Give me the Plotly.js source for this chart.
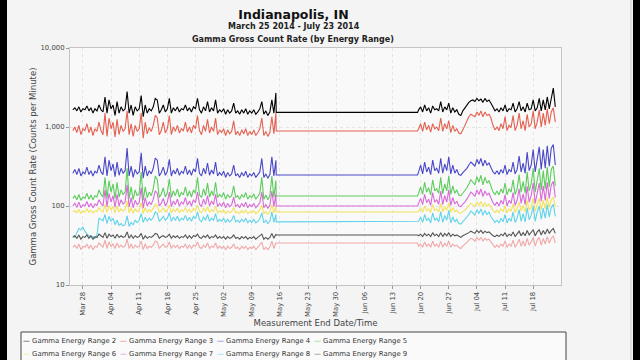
<!DOCTYPE html>
<html><head><meta charset="utf-8">
<script src="https://cdn.plot.ly/plotly-3.0.1.min.js"></script>
<style>html,body{margin:0;padding:0;background:#f4f4f4}#chart{width:640px;height:360px}</style>
</head><body><div id="chart"></div>
<script>
// ---------- DATA ----------
const seriesNames = ['Gamma Energy Range 2','Gamma Energy Range 3','Gamma Energy Range 4','Gamma Energy Range 5',
  'Gamma Energy Range 6','Gamma Energy Range 7','Gamma Energy Range 8','Gamma Energy Range 9','Gamma Energy Range 10'];
const seriesColors = ['#000000','#e4604f','#4a48c8','#5ccc5c','#f2e25a','#d86ad8','#5fd3ea','#555555','#f0a8a8'];

const seg1Start = '2014-03-25 12:00';   // first reading, then every 12 h
const seg2Start = '2014-06-19 12:00';
const sampleHours = 12;
const gapTimes = ['2014-05-15 02:00','2014-06-19 06:00'];
const gapLevels = [1530, 890, 247, 134, 84, 100, 63, 43, 34];

const yTickVals = [10, 100, 1000, 10000];
const yTickText = ['10', '100', '1,000', '10,000'];

// Range 2
const r2a = [1650,1750,1600,1800,1550,1700,1650,1850,1600,1750,
 1500,1700,1600,1900,1650,1550,2400,1500,2200,1700,
 1900,1400,2100,1500,1800,1600,1700,2800,1500,1900,
 1400,1800,1600,1700,2500,1350,1900,1500,1700,1600,
 1800,2300,2200,1500,1650,1900,1550,1700,2300,1500,
 1750,1600,1800,1550,1700,1650,1900,1600,1750,1550,
 1800,1700,2300,1650,1500,1800,1600,2100,1550,1750,
 1600,2200,1500,1650,1550,1700,1450,1650,1500,1600,
 2000,1500,1600,1450,1650,1500,1700,1450,1600,1500,
 1650,1450,1550,1700,2100,1450,1600,1400,1550,2200,
 1500,2700];
const r2b = [1650,1800,1550,1900,1600,1750,1500,1850,1650,1700,
 1600,2100,1550,1800,1650,2000,1500,1750,1550,1650,
 1450,1400,1600,1750,1900,2050,2150,2200,2100,2300,
 2150,2250,2050,2300,2100,2200,2000,1750,1600,1700,
 1550,1750,1600,1900,1550,1700,1650,2000,1550,1700,
 2100,1600,1800,1550,2000,1650,1700,2200,1600,1750,
 2300,1600,2200,1650,2400,1700,2300,3100,1800];
// Range 3
const r3a = [900,1000,850,1050,800,950,900,1100,850,1000,
 780,950,880,1150,900,800,1500,760,1300,950,
 1150,750,1250,800,1050,880,950,1600,800,1100,
 760,1050,880,950,1500,720,1150,820,980,880,
 1050,1400,1300,800,900,1150,840,950,1400,800,
 1000,880,1050,840,950,900,1150,860,1000,840,
 1050,950,1400,900,800,1050,880,1250,840,1000,
 880,1300,800,920,850,950,780,920,820,880,
 1200,800,880,780,920,820,950,780,880,800,
 920,780,850,950,1300,780,880,760,850,1350,
 820,1500];
const r3b = [950,1100,880,1150,920,1050,860,1100,950,1000,
 900,1300,880,1100,950,1200,850,1050,880,950,
 840,820,920,1050,1200,1350,1450,1400,1350,1550,
 1400,1600,1350,1550,1400,1450,1300,1050,920,1000,
 900,1100,950,1350,900,1050,980,1400,900,1050,
 1500,950,1200,900,1450,1000,1100,1600,950,1150,
 1650,1000,1500,1050,1700,1100,1550,1750,1150];
// Range 4
const r4a = [260,290,250,300,240,270,255,310,250,280,
 240,275,260,330,270,250,420,240,380,280,
 340,235,360,245,300,260,280,540,240,320,
 230,290,255,270,470,225,320,240,280,255,
 300,405,380,240,265,310,245,275,390,240,
 285,255,300,245,275,260,320,250,285,245,
 295,270,400,260,240,300,255,350,245,285,
 255,360,240,265,245,275,230,265,240,255,
 330,240,255,230,265,240,275,230,255,240,
 265,230,250,270,400,230,255,225,250,420,
 240,380];
const r4b = [270,330,255,360,270,310,250,380,280,300,
 260,400,260,340,280,420,255,330,260,290,
 250,245,265,280,300,330,360,340,320,390,
 340,400,320,380,330,350,300,270,255,280,
 250,290,260,330,250,290,270,360,255,290,
 430,270,350,260,480,280,330,520,270,380,
 560,290,520,300,580,320,540,600,330];
// Range 5
const r5a = [125,135,120,140,118,130,125,145,122,138,
 120,135,130,160,140,130,230,125,210,150,
 190,125,200,130,160,140,150,300,125,175,
 120,160,135,145,270,118,175,128,150,135,
 165,240,215,128,142,170,130,148,220,128,
 155,135,165,130,148,138,175,132,155,130,
 160,145,230,138,128,165,135,195,130,155,
 135,200,128,140,130,148,122,140,128,135,
 180,128,135,122,140,128,148,122,135,128,
 142,122,132,145,230,122,138,120,135,240,
 128,210];
const r5b = [145,175,140,200,150,170,138,215,155,165,
 145,230,142,190,155,240,140,180,145,160,
 138,135,145,155,170,190,215,200,185,235,
 200,245,185,230,195,210,175,150,140,155,
 138,165,145,195,138,165,150,215,140,165,
 250,150,205,145,270,155,190,300,150,220,
 300,160,280,165,310,175,290,320,180];
// Range 6
const r6a = [84,88,82,90,81,86,84,92,83,88,
 82,87,85,95,88,84,105,83,100,90,
 98,82,100,84,92,86,90,115,82,95,
 81,92,85,88,110,80,95,83,90,85,
 94,105,102,83,87,95,84,89,102,82,
 91,85,94,83,89,86,95,84,91,83,
 93,88,102,86,82,94,85,98,83,90,
 85,99,82,87,83,89,80,87,82,85,
 96,82,85,80,88,82,89,80,85,82,
 88,80,84,89,102,80,85,79,84,104,
 82,98];
const r6b = [86,94,84,100,87,92,83,104,88,91,
 84,108,84,98,88,110,83,95,85,89,
 82,81,85,88,94,100,108,104,98,112,
 102,114,98,110,100,105,95,88,83,88,
 82,92,85,100,82,92,86,106,83,92,
 112,86,102,84,118,89,98,125,86,106,
 125,90,118,92,128,96,120,130,98];
// Range 7
const r7a = [100,108,96,112,95,104,100,114,97,108,
 95,106,102,120,108,100,160,98,145,112,
 135,97,140,100,120,106,112,185,97,128,
 95,118,104,110,170,94,128,100,112,104,
 122,155,145,100,108,125,100,112,150,98,
 116,104,122,100,112,106,128,102,116,100,
 120,110,150,106,98,122,104,135,100,116,
 104,140,98,108,100,112,95,108,98,104,
 130,98,104,95,108,98,112,95,104,98,
 108,95,102,110,150,95,104,94,102,155,
 98,140];
const r7b = [108,125,104,140,110,122,102,148,112,120,
 105,155,104,135,112,160,102,128,106,115,
 100,98,106,112,122,135,150,142,132,160,
 140,165,132,155,138,145,125,110,102,112,
 100,118,105,138,100,118,108,148,102,118,
 165,108,142,104,178,112,135,195,108,150,
 195,115,180,118,200,125,185,205,128];
// Range 8
const r8a = [42,40,46,52,50,54,48,44,42,40,
 41,39,43,70,68,65,78,60,74,64,
 70,58,66,57,60,56,58,75,55,62,
 58,66,62,66,80,62,72,64,70,66,
 72,84,80,64,68,74,66,70,82,64,
 72,66,74,64,70,67,76,65,72,64,
 74,69,84,67,63,73,66,78,64,70,
 66,80,63,68,64,70,62,68,63,66,
 76,63,66,62,68,63,70,61,66,62,
 68,61,64,69,82,61,66,60,64,84,
 62,78];
const r8b = [64,72,62,78,65,70,61,82,66,70,
 63,85,62,76,66,88,61,73,63,68,
 60,59,63,67,72,78,86,82,76,90,
 80,92,76,88,78,84,73,66,62,66,
 61,70,63,78,61,70,64,84,62,70,
 90,64,80,63,95,67,76,100,64,84,
 100,68,94,70,104,73,96,105,74];
// Range 9
const r9a = [40,42,39,43,38,41,40,43,39,42,
 38,41,40,44,42,40,46,39,44,41,
 43,39,44,40,42,40,41,47,39,43,
 39,42,40,41,45,38,42,39,41,40,
 42,45,44,39,41,42,40,41,44,39,
 42,40,42,39,41,40,43,39,42,39,
 42,41,44,40,39,42,40,43,39,41,
 40,43,39,41,39,41,38,41,39,40,
 43,39,40,38,41,39,41,38,40,39,
 41,38,40,42,44,38,40,38,40,45,
 39,44];
const r9b = [42,44,41,45,42,44,41,46,42,44,
 41,46,41,45,42,46,41,44,42,43,
 41,40,42,43,45,46,48,47,45,49,
 46,49,45,48,46,47,44,42,41,43,
 41,44,42,46,41,44,42,47,41,44,
 48,42,46,42,49,43,46,50,42,47,
 50,43,49,44,51,45,49,52,45];
// Range 10
const r10a = [30,32,29,33,28,31,30,33,29,32,
 28,31,30,34,32,30,37,29,35,31,
 33,29,34,30,32,30,31,38,29,33,
 29,32,30,31,36,28,33,29,31,30,
 32,36,35,29,31,33,30,31,35,29,
 32,30,32,29,31,30,33,29,32,29,
 32,31,35,30,29,32,30,34,29,31,
 30,34,29,31,29,31,28,31,29,30,
 33,29,30,28,31,29,31,28,30,29,
 31,28,30,32,35,28,30,28,30,36,
 29,34];
const r10b = [31,33,30,35,31,33,30,36,31,33,
 30,36,30,34,31,36,30,33,31,32,
 30,29,31,33,35,37,39,38,36,40,
 37,40,36,39,37,38,35,32,30,32,
 30,33,31,36,30,33,31,37,30,33,
 38,31,36,31,39,32,35,40,31,37,
 40,32,39,33,41,34,39,42,34];

// ---------- BUILD ----------
function sampleTimes(start, count) {
  const t0 = new Date(start.replace(' ', 'T') + ':00Z').getTime();
  const out = [];
  for (let i = 0; i < count; i++) {
    out.push(new Date(t0 + i * sampleHours * 3600000).toISOString().slice(0, 16).replace('T', ' '));
  }
  return out;
}
const seg1 = [r2a, r3a, r4a, r5a, r6a, r7a, r8a, r9a, r10a];
const seg2 = [r2b, r3b, r4b, r5b, r6b, r7b, r8b, r9b, r10b];
const t1 = sampleTimes(seg1Start, r2a.length);
const t2 = sampleTimes(seg2Start, r2b.length);

const traces = seriesNames.map((name, k) => ({
  type: 'scatter', mode: 'lines', name: name,
  x: t1.concat(gapTimes, t2),
  y: seg1[k].concat([gapLevels[k], gapLevels[k]], seg2[k]),
  line: {color: seriesColors[k], width: 1.1},
  hoverinfo: 'skip'
}));

// pixel helpers for layout-only placement
const PL = 70, PR = 561, PT = 48, PB = 285;
const px = x => (x - PL) / (PR - PL);
const py = y => (PB - y) / (PB - PT);

const FONT = 'DejaVu Sans, Verdana, sans-serif';

const annotations = [
  {text: 'March 25 2014 - July 23 2014', xref: 'paper', yref: 'paper', x: px(294), y: py(27), xanchor: 'center', yanchor: 'middle', showarrow: false,
   font: {family: FONT, size: 8, color: '#222', weight: 'bold'}},
  {text: 'Gamma Gross Count Rate (by Energy Range)', xref: 'paper', yref: 'paper', x: px(293), y: py(39.5), xanchor: 'center', yanchor: 'middle', showarrow: false,
   font: {family: FONT, size: 8, color: '#222', weight: 'bold'}}
];
// legend entries (two visible rows of four)
const legX = [22, 119, 216, 313];
const legY = [341, 354];
for (let k = 0; k < 8; k++) {
  annotations.push({
    text: '<span style="color:' + seriesColors[k] + '">\u2014</span> ' + seriesNames[k],
    xref: 'paper', yref: 'paper', x: px(legX[k % 4]), y: py(legY[Math.floor(k / 4)]),
    xanchor: 'left', yanchor: 'middle', showarrow: false, borderpad: 0,
    font: {family: FONT, size: 6.9, color: '#333'}
  });
}

const shapes = [
  {type: 'rect', xref: 'paper', yref: 'paper', x0: px(21), x1: px(566), y0: py(332), y1: py(400),
   line: {color: '#444', width: 1}, fillcolor: '#fafafa', layer: 'below'},
  {type: 'rect', xref: 'paper', yref: 'paper', x0: px(-2), x1: px(7), y0: py(-5), y1: py(365),
   line: {width: 0}, fillcolor: '#000'},
  {type: 'rect', xref: 'paper', yref: 'paper', x0: px(633), x1: px(642), y0: py(-5), y1: py(365),
   line: {width: 0}, fillcolor: '#000'},
  {type: 'line', xref: 'paper', yref: 'paper', x0: px(631), x1: px(631), y0: py(0), y1: py(360),
   line: {color: '#cfcfcf', width: 1}}
];

const layout = {
  width: 640, height: 360,
  margin: {l: PL, r: 640 - PR, t: PT, b: 360 - PB, pad: 0},
  paper_bgcolor: '#f4f4f4', plot_bgcolor: '#f9f9f9',
  font: {family: FONT, size: 6.7, color: '#333'},
  showlegend: false,
  title: {text: 'Indianapolis, IN', xref: 'paper', x: px(293.5), xanchor: 'center', yref: 'container', y: 1 - 15 / 360, yanchor: 'middle',
    font: {family: FONT, size: 12.5, color: '#111', weight: 'bold'}},
  xaxis: {
    type: 'date', range: ['2014-03-24 19:00', '2014-07-24 22:00'],
    tick0: '2014-03-28', dtick: 7 * 86400000, tickformat: '%b %d', tickangle: -90,
    ticks: 'outside', ticklen: 3, tickcolor: '#999', tickfont: {family: FONT, size: 6.9, color: '#444'},
    showgrid: true, gridcolor: '#e4e4e4', griddash: 'dot', gridwidth: 1,
    showline: true, linecolor: '#c4c4c4', linewidth: 1, mirror: true, zeroline: false,
    automargin: false,
    title: {text: 'Measurement End Date/Time', font: {family: FONT, size: 8.5, color: '#444'}, standoff: 4}
  },
  yaxis: {
    type: 'log', range: [1, 4], tickvals: yTickVals, ticktext: yTickText,
    ticks: 'outside', ticklen: 3, tickcolor: '#999', tickfont: {family: FONT, size: 6.9, color: '#444'},
    showgrid: true, gridcolor: '#e4e4e4', griddash: 'dot', gridwidth: 1,
    showline: true, linecolor: '#c4c4c4', linewidth: 1, mirror: true, zeroline: false,
    automargin: false,
    title: {text: 'Gamma Gross Count Rate (Counts per Minute)', font: {family: FONT, size: 8.5, color: '#444'}, standoff: 2}
  },
  annotations: annotations,
  shapes: shapes
};

Plotly.newPlot('chart', traces, layout, {displayModeBar: false, staticPlot: true});
</script>
</body></html>
